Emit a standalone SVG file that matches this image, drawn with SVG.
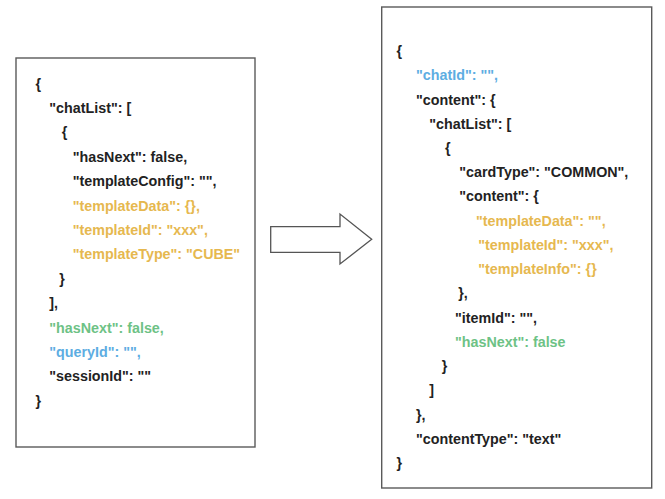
<svg xmlns="http://www.w3.org/2000/svg" width="665" height="499" viewBox="0 0 665 499">
<style>
.box{fill:#fff;stroke:#5a5a5a;stroke-width:1.4}
text{font-family:"Liberation Sans",Arial,sans-serif;font-size:14.3px;font-weight:bold;fill:#222}
.y{fill:#E6B84F}
.g{fill:#6DC285}
.b{fill:#5DADE2}
</style>
<rect width="665" height="499" fill="#fff"/>
<g id="left">
<rect class="box" x="16" y="58" width="239" height="389"/>
<text x="35.5" y="88.6">{</text>
<text x="49.3" y="113">"chatList": [</text>
<text x="61.7" y="137.4">{</text>
<text x="72.7" y="161.8">"hasNext": false,</text>
<text x="72.7" y="186.2">"templateConfig": "",</text>
<text class="y" x="72.7" y="210.6">"templateData": {},</text>
<text class="y" x="72.7" y="235">"templateId": "xxx",</text>
<text class="y" x="72.7" y="259.4">"templateType": "CUBE"</text>
<text x="59.3" y="283.8">}</text>
<text x="49.3" y="308.2">],</text>
<text class="g" x="49.3" y="332.6">"hasNext": false,</text>
<text class="b" x="49.3" y="357">"queryId": "",</text>
<text x="49.3" y="381.4">"sessionId": ""</text>
<text x="35.5" y="405.8">}</text>
</g>
<g id="connectors">
<polygon points="270.7,226.7 340,226.7 340,214 371.7,239.3 340,264 340,252.3 270.7,252.3" fill="#fff" stroke="#555" stroke-width="1.3" stroke-linejoin="miter"/>
</g>
<g id="right">
<rect class="box" x="381.7" y="7" width="270" height="481"/>
<text x="396.5" y="56">{</text>
<text class="b" x="416" y="80.2">"chatId": "",</text>
<text x="416" y="104.5">"content": {</text>
<text x="429.3" y="128.7">"chatList": [</text>
<text x="445" y="152.9">{</text>
<text x="459.3" y="177.2">"cardType": "COMMON",</text>
<text x="459.3" y="201.4">"content": {</text>
<text class="y" x="476" y="225.6">"templateData": "",</text>
<text class="y" x="478.3" y="249.9">"templateId": "xxx",</text>
<text class="y" x="478.3" y="274.1">"templateInfo": {}</text>
<text x="458.3" y="298.4">},</text>
<text x="455" y="322.6">"itemId": "",</text>
<text class="g" x="455" y="346.8">"hasNext": false</text>
<text x="441.7" y="371.1">}</text>
<text x="429.3" y="395.3">]</text>
<text x="416" y="419.5">},</text>
<text x="416" y="443.8">"contentType": "text"</text>
<text x="396.5" y="468">}</text>
</g>
</svg>
